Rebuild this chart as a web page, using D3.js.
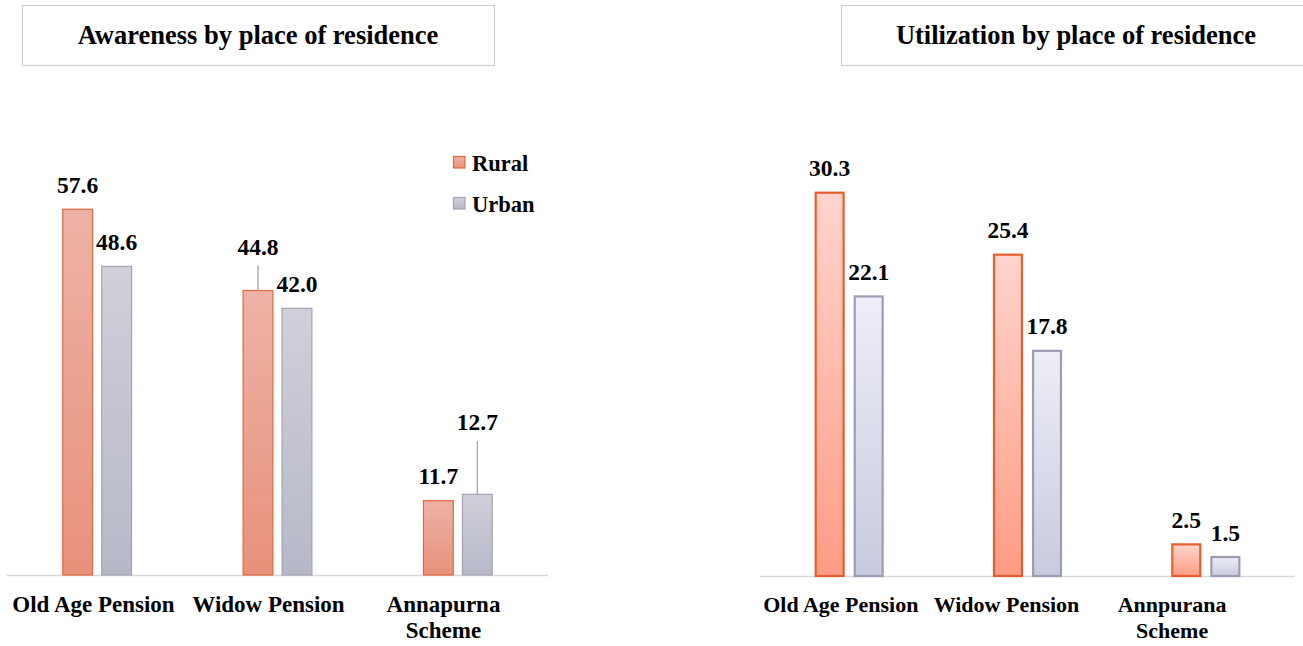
<!DOCTYPE html>
<html>
<head>
<meta charset="utf-8">
<script src="https://cdn.jsdelivr.net/npm/d3@7"></script>
<style>
  html, body { margin: 0; padding: 0; background: #ffffff; }
  svg { display: block; }
  text { font-family: "Liberation Serif", "Times New Roman", serif; font-weight: bold; fill: #000; }
</style>
</head>
<body>
<svg id="chart" width="1303" height="646"></svg>
<script>
// ---- data ----
const seriesNames = ["Rural", "Urban"];

const awarenessCategories = ["Old Age Pension", "Widow Pension", "Annapurna\nScheme"];
const awarenessRural = [57.6, 44.8, 11.7];
const awarenessUrban = [48.6, 42.0, 12.7];

const utilizationCategories = ["Old Age Pension", "Widow Pension", "Annpurana\nScheme"];
const utilizationRural = [30.3, 25.4, 2.5];
const utilizationUrban = [22.1, 17.8, 1.5];

const svg = d3.select("#chart");
const defs = svg.append("defs");

function gradient(id, top, bottom) {
  const g = defs.append("linearGradient").attr("id", id)
    .attr("x1", 0).attr("y1", 0).attr("x2", 0).attr("y2", 1);
  g.append("stop").attr("offset", "0%").attr("stop-color", top);
  g.append("stop").attr("offset", "100%").attr("stop-color", bottom);
}
gradient("awRural", "#EDB2A6", "#E8917B");
gradient("awUrban", "#D0D0DA", "#B7B8C7");
gradient("utRural", "#FFD4CC", "#FF9C84");
gradient("utUrban", "#EEEEF7", "#C8CADF");

// panel config: layout and styling for each chart
const panels = [
  {
    title: "Awareness by place of residence",
    box: [22, 5, 472, 60],
    categories: awarenessCategories,
    values: [awarenessRural, awarenessUrban],
    xRange: [7, 548], labelRange: [6, 531],
    baseline: 575, yMax: 60, yTop: 194,
    fills: ["url(#awRural)", "url(#awUrban)"],
    strokes: ["#E2683F", "#A3A3B5"], strokeWidth: 1.2,
    gap: 0.205, catFont: 23,
    leaders: { "1|0": 36, "2|1": 64 },
    legend: { x: 453, y: 156 }
  },
  {
    title: "Utilization by place of residence",
    box: [841, 5, 470, 60],
    categories: utilizationCategories,
    values: [utilizationRural, utilizationUrban],
    xRange: [760, 1295], labelRange: [758, 1255],
    baseline: 576, yMax: 32, yTop: 171.2,
    fills: ["url(#utRural)", "url(#utUrban)"],
    strokes: ["#E65E2C", "#9C9DB3"], strokeWidth: 2.2,
    gap: 0.228, catFont: 22,
    leaders: {},
    legend: null
  }
];

panels.forEach(p => {
  const g = svg.append("g");

  // title box
  g.append("rect")
    .attr("x", p.box[0] + 0.5).attr("y", p.box[1] + 0.5)
    .attr("width", p.box[2]).attr("height", p.box[3])
    .attr("fill", "#fff").attr("stroke", "#D0D0D0").attr("stroke-width", 1.2);
  g.append("text")
    .attr("x", p.box[0] + p.box[2] / 2).attr("y", 44)
    .attr("text-anchor", "middle").attr("font-size", 26.5)
    .text(p.title);

  const x0 = d3.scaleBand().domain(p.categories).range(p.xRange)
    .paddingInner(0.612).paddingOuter(0.306);
  const x1 = d3.scaleBand().domain(seriesNames).range([0, x0.bandwidth()])
    .paddingInner(p.gap);
  const y = d3.scaleLinear().domain([0, p.yMax]).range([p.baseline, p.yTop]);
  const xLab = d3.scaleBand().domain(p.categories).range(p.labelRange);

  // axis line
  g.append("line")
    .attr("x1", p.xRange[0]).attr("x2", p.xRange[1])
    .attr("y1", p.baseline + 0.5).attr("y2", p.baseline + 0.5)
    .attr("stroke", "#D9D9D9").attr("stroke-width", 1.5);

  const rows = [];
  p.categories.forEach((c, i) => {
    seriesNames.forEach((s, j) => rows.push({ c, i, s, j, v: p.values[j][i] }));
  });

  const sw = p.strokeWidth;
  g.selectAll("rect.bar").data(rows).enter().append("rect")
    .attr("class", "bar")
    .attr("x", d => x0(d.c) + x1(d.s) + sw / 2)
    .attr("y", d => y(d.v))
    .attr("width", x1.bandwidth() - sw)
    .attr("height", d => y(0) - y(d.v))
    .attr("fill", d => p.fills[d.j])
    .attr("stroke", d => p.strokes[d.j])
    .attr("stroke-width", sw);

  // value labels, some lifted with a leader line
  rows.forEach(d => {
    const cx = x0(d.c) + x1(d.s) + x1.bandwidth() / 2;
    const lift = p.leaders[d.i + "|" + d.j];
    const by = y(d.v) - (lift || 16.5);
    if (lift) {
      g.append("line")
        .attr("x1", cx).attr("x2", cx)
        .attr("y1", by + 11).attr("y2", y(d.v))
        .attr("stroke", "#A6A6A6").attr("stroke-width", 1.3);
    }
    g.append("text")
      .attr("x", cx).attr("y", by)
      .attr("text-anchor", "middle").attr("font-size", 23.5)
      .text(d.v.toFixed(1));
  });

  // category labels
  p.categories.forEach(c => {
    const lines = c.split("\n");
    const t = g.append("text")
      .attr("x", xLab(c) + xLab.bandwidth() / 2).attr("y", 611.5)
      .attr("text-anchor", "middle").attr("font-size", p.catFont);
    lines.forEach((ln, k) => {
      t.append("tspan").attr("x", xLab(c) + xLab.bandwidth() / 2)
        .attr("dy", k === 0 ? 0 : 26).text(ln);
    });
  });

  // legend
  if (p.legend) {
    seriesNames.forEach((s, j) => {
      const ly = p.legend.y + j * 41;
      g.append("rect")
        .attr("x", p.legend.x + 0.5).attr("y", ly + 0.5)
        .attr("width", 11.5).attr("height", 11.5)
        .attr("fill", p.fills[j]).attr("stroke", p.strokes[j]).attr("stroke-width", 1.2);
      g.append("text")
        .attr("x", p.legend.x + 19).attr("y", ly + 14.5)
        .attr("font-size", 22.5)
        .text(s);
    });
  }
});
</script>
</body>
</html>
